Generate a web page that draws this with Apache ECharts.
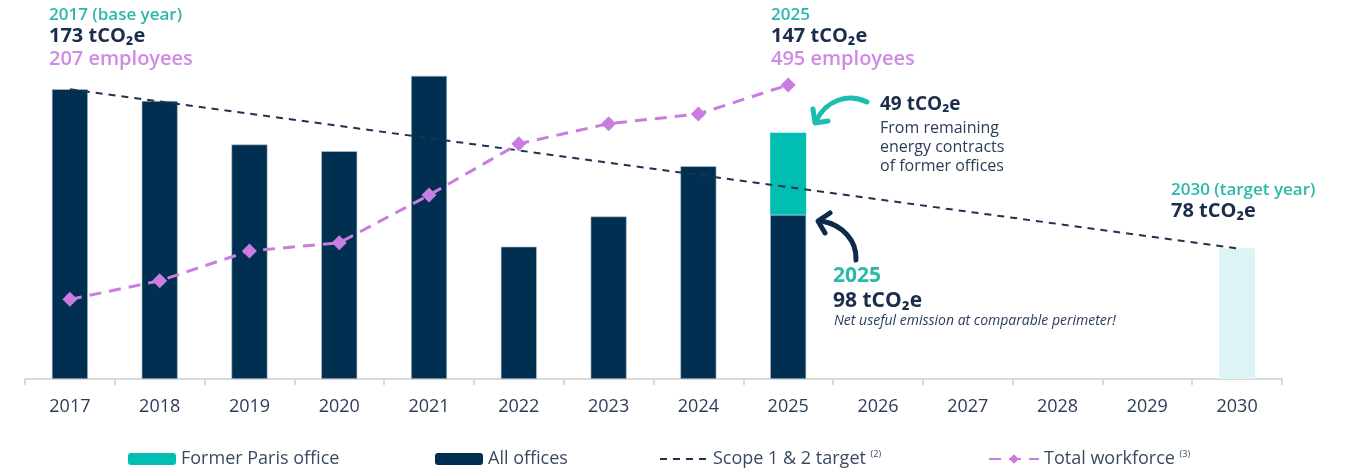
<!DOCTYPE html>
<html>
<head>
<meta charset="utf-8">
<script src="https://cdn.jsdelivr.net/npm/echarts@6/dist/echarts.min.js"></script>
<style>
html,body{margin:0;padding:0;background:#fff;}
#c{width:1357px;height:468px;}
</style>
</head>
<body>
<div id="c"></div>
<script>
// ---- data ----
var years = ['2017','2018','2019','2020','2021','2022','2023','2024','2025','2026','2027','2028','2029','2030'];
var allOffices = [173, 166, 140, 136, 181, 79, 97, 127, 98, null, null, null, null, null];
var formerParis = [null, null, null, null, null, null, null, null, 49, null, null, null, null, null];
var target2030 = [null, null, null, null, null, null, null, null, null, null, null, null, null, 78];
var scopeTarget = [173, null, null, null, null, null, null, null, null, null, null, null, null, 78];
var workforce = [207, 232, 272, 283, 347, 416, 443, 456, 495, null, null, null, null, null];

var NAVY = '#002f52';
var TEAL = '#00bfb2';
var LIGHT = '#ddf4f6';
var PURPLE = '#c97de0';
var TXT = '#2b3d58';
var FONT = '"Open Sans", sans-serif';

var chart = echarts.init(document.getElementById('c'), null, {renderer: 'canvas'});

function legendAt(left, item, w, sup) {
  return {
    data: [item], left: left, top: 445, itemWidth: w, itemHeight: 12, itemGap: 0,
    textStyle: {fontFamily: FONT, fontSize: 18, color: '#3b4a63',
      rich: {s: {fontFamily: FONT, fontSize: 9, color: '#3b4a63', padding: [0, 0, 9, 0]}}},
    formatter: sup ? function (n) { return n + ' {s|' + sup + '}'; } : undefined,
    itemStyle: {borderWidth: 0},
    selectedMode: false
  };
}

function txt(x, y, text, size, weight, color, style) {
  return {
    type: 'text', x: x, y: y, silent: true,
    style: {
      text: text, fontFamily: FONT, fontSize: size, fontWeight: weight,
      fontStyle: style || 'normal', fill: color, textVerticalAlign: 'middle', textAlign: 'left'
    }
  };
}

var option = {
  backgroundColor: '#fff',
  animation: false,
  grid: {left: 25, right: 75, top: 44, bottom: 89, containLabel: false},
  legend: [
    legendAt(123, 'Former Paris office', 48),
    legendAt(430, 'All offices', 48),
    legendAt(654, {name: 'Scope 1 & 2 target', itemStyle: {opacity: 0}}, 48, '(2)'),
    legendAt(983, 'Total workforce', 50, '(3)')
  ],
  xAxis: {
    type: 'category', data: years, boundaryGap: true,
    axisLine: {lineStyle: {color: '#d9d9d9', width: 2}},
    axisTick: {show: true, length: 6, lineStyle: {color: '#d9d9d9', width: 2}},
    axisLabel: {color: TXT, fontFamily: FONT, fontSize: 18, margin: 19}
  },
  yAxis: [
    {type: 'value', min: 0, max: 200, show: false, splitLine: {show: false}},
    {type: 'value', min: 100, max: 550, show: false, splitLine: {show: false}}
  ],
  series: [
    {
      name: 'All offices', type: 'bar', stack: 'e', data: allOffices, barWidth: 36,
      itemStyle: {color: NAVY, borderColor: '#b8c4cf', borderWidth: 0.6}
    },
    {
      name: 'Former Paris office', type: 'bar', stack: 'e', data: formerParis, barWidth: 36,
      itemStyle: {color: TEAL}
    },
    {
      name: '2030 target', type: 'bar', stack: 'e', data: target2030, barWidth: 36,
      itemStyle: {color: LIGHT}
    },
    {
      name: 'Scope 1 & 2 target', type: 'line', data: scopeTarget, connectNulls: true,
      symbol: 'none', z: 5,
      lineStyle: {color: '#1f3350', width: 2, type: [7, 6]},
      itemStyle: {color: '#1f3350'}
    },
    {
      name: 'Total workforce', type: 'line', yAxisIndex: 1, data: workforce,
      symbol: 'diamond', symbolSize: 15, z: 6,
      lineStyle: {color: PURPLE, width: 3, type: [12, 8]},
      itemStyle: {color: PURPLE}
    }
  ],
  graphic: [
    // 2017 base year
    txt(49, 15, '2017 (base year)', 17, 600, '#2bb8aa'),
    txt(49, 36, '173 tCO₂e', 20, 700, '#1b2d4a'),
    txt(49, 59, '207 employees', 20, 600, '#d08ae6'),
    // 2025 top
    txt(771, 15, '2025', 17, 600, '#2bb8aa'),
    txt(771, 36, '147 tCO₂e', 20, 700, '#1b2d4a'),
    txt(771, 59, '495 employees', 20, 600, '#d08ae6'),
    // 49 t
    txt(880, 105, '49 tCO₂e', 19, 700, '#1b2d4a'),
    txt(880, 128, 'From remaining', 16, 400, TXT),
    txt(880, 147, 'energy contracts', 16, 400, TXT),
    txt(880, 166, 'of former offices', 16, 400, TXT),
    // 2030 target
    txt(1171, 190, '2030 (target year)', 17, 600, '#2bb8aa'),
    txt(1171, 211, '78 tCO₂e', 20, 700, '#1b2d4a'),
    // 2025 net
    txt(833, 276, '2025', 21, 700, '#2bb8aa'),
    txt(833, 301, '98 tCO₂e', 21, 700, '#1b2d4a'),
    txt(834, 321, 'Net useful emission at comparable perimeter!', 14, 400, TXT, 'italic'),
    // teal arrow
    {type: 'bezierCurve', silent: true,
      shape: {x1: 867, y1: 102, cpx1: 848, cpy1: 93, cpx2: 826, cpy2: 100, x2: 816, y2: 121},
      style: {stroke: '#1bbdb0', lineWidth: 5, lineCap: 'round', fill: null}},
    {type: 'polyline', silent: true,
      shape: {points: [[813, 109], [815, 123], [828, 121]]},
      style: {stroke: '#1bbdb0', lineWidth: 5, lineCap: 'round', lineJoin: 'round', fill: null}},
    // navy arrow
    {type: 'bezierCurve', silent: true,
      shape: {x1: 856, y1: 260, cpx1: 857, cpy1: 240, cpx2: 842, cpy2: 225, x2: 822, y2: 221},
      style: {stroke: '#0d2b4a', lineWidth: 5, lineCap: 'round', fill: null}},
    {type: 'polyline', silent: true,
      shape: {points: [[830, 213], [818, 221], [825, 233]]},
      style: {stroke: '#0d2b4a', lineWidth: 5, lineCap: 'round', lineJoin: 'round', fill: null}}
  ]
};
chart.setOption(option);
</script>
</body>
</html>
